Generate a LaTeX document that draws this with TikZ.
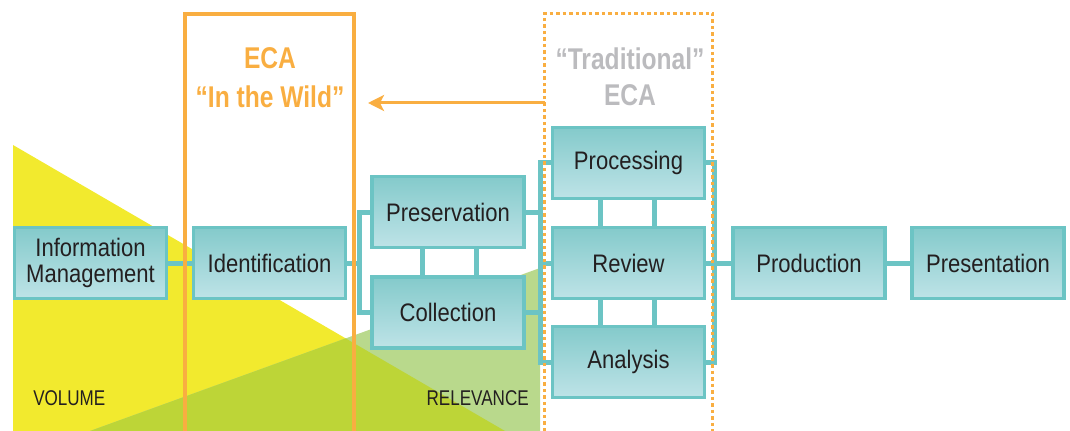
\documentclass[tikz,border=0pt]{standalone}
\usepackage{fontspec}
\setmainfont{Liberation Sans}
\newfontfamily\boxfont{Liberation Sans}[FakeStretch=0.87]
\newfontfamily\capfont{Liberation Sans}[FakeStretch=0.8]
\newfontfamily\ttlfont{Liberation Sans}[FakeStretch=0.82]
\usetikzlibrary{arrows.meta}
\newdimen\pxu \pxu=0.75pt
\definecolor{boxline}{HTML}{6CC4C4}
\definecolor{boxtop}{HTML}{84CACB}
\definecolor{boxbot}{HTML}{BEE3E7}
\definecolor{orng}{HTML}{F9AE41}
\definecolor{grayt}{HTML}{BBBBBE}
\definecolor{txt}{HTML}{231F20}
\definecolor{yel}{HTML}{F2EA2E}
\definecolor{lgrn}{HTML}{B9D98C}
\definecolor{dgrn}{HTML}{BDD537}
\begin{document}
\begin{tikzpicture}[x=0.75pt,y=-0.75pt,
  box/.style={draw=boxline, line width=3.5\pxu, top color=boxtop, bottom color=boxbot,
    minimum width=152\pxu, minimum height=71\pxu, inner sep=0pt,
    font=\boxfont\fontsize{19}{19}\selectfont, text=txt, align=center},
  conn/.style={draw=boxline, line width=5\pxu},
  ttl/.style={font=\ttlfont\bfseries\fontsize{22.5}{23}\selectfont, inner sep=0pt},
  axislbl/.style={font=\capfont\fontsize{16}{17}\selectfont, text=txt, inner sep=0pt},
  wildbox/.style={draw=orng, line width=4\pxu},
  tradbox/.style={draw=orng, line width=2.5\pxu, dash pattern=on 3.5\pxu off 3\pxu}]
\useasboundingbox (0,0) rectangle (1070,431);
% background wedges
\fill[yel] (13,145) -- (13,431) -- (505,431) -- cycle;
\fill[lgrn] (90,431) -- (540,268) -- (540,431) -- cycle;
\begin{scope}
  \clip (13,145) -- (13,431) -- (505,431) -- cycle;
  \fill[dgrn] (90,431) -- (540,268) -- (540,431) -- cycle;
\end{scope}
% boxes
\node[box] (info)  at (90.5,263)  {Information\\Management};
\node[box] (ident) at (269.5,263) {Identification};
\node[box] (pres)  at (448,212)   {Preservation};
\node[box] (coll)  at (448,312.5) {Collection};
\node[box] (proc)  at (628.5,163) {Processing};
\node[box] (rev)   at (628.5,263) {Review};
\node[box] (anal)  at (628.5,362) {Analysis};
\node[box] (prod)  at (809,263)   {Production};
\node[box] (prsn)  at (988,263)   {Presentation};
% connectors
\coordinate (bl) at (359.5,263);
\coordinate (bm) at (540,263);
\coordinate (br) at (714,263);
\draw[conn] (info.east) -- (ident.west);
\draw[conn] (ident.east) -- (bl);
\draw[conn] (pres.west) -| (bl) |- (coll.west);
\draw[conn] ([xshift=-26\pxu]pres.south) -- ([xshift=-26\pxu]coll.north);
\draw[conn] ([xshift=28\pxu]pres.south) -- ([xshift=28\pxu]coll.north);
\draw[conn] (pres.east) -- (pres.east -| bm);
\draw[conn] (coll.east) -- (coll.east -| bm);
\draw[conn] (proc.west) -| (bm) |- (anal.west);
\draw[conn] (rev.west) -- (bm);
\draw[conn] ([xshift=-28\pxu]proc.south) -- ([xshift=-28\pxu]rev.north);
\draw[conn] ([xshift=26\pxu]proc.south) -- ([xshift=26\pxu]rev.north);
\draw[conn] ([xshift=-28\pxu]rev.south) -- ([xshift=-28\pxu]anal.north);
\draw[conn] ([xshift=26\pxu]rev.south) -- ([xshift=26\pxu]anal.north);
\draw[conn] (proc.east) -| (br) |- (anal.east);
\draw[conn] (rev.east) -- (prod.west);
\draw[conn] (prod.east) -- (prsn.west);
% orange frames
\draw[wildbox] (185,431) -- (185,14) -- (353.5,14) -- (353.5,431);
\draw[tradbox] (544.5,431) -- (544.5,13.5) -- (712.5,13.5) -- (712.5,431);
\coordinate (arrS) at (544.5,103);
\coordinate (arrE) at (368,103);
\draw[orng, line width=2.25pt, -{Stealth[length=12pt, width=12pt, inset=3pt]}] (arrS) -- (arrE);
% titles
\node[ttl, text=orng] (ecaA) at (270,58) {ECA};
\node[ttl, text=orng] (wild) at (270,97) {“In the Wild”};
\node[ttl, text=grayt] (trad) at (630,59) {“Traditional”};
\node[ttl, text=grayt] (ecaB) at (630,95) {ECA};
% axis labels
\node[axislbl, anchor=base west] (vol) at (33,405) {VOLUME};
\node[axislbl, anchor=base east] (relv) at (529,405) {RELEVANCE};
\end{tikzpicture}
\end{document}
